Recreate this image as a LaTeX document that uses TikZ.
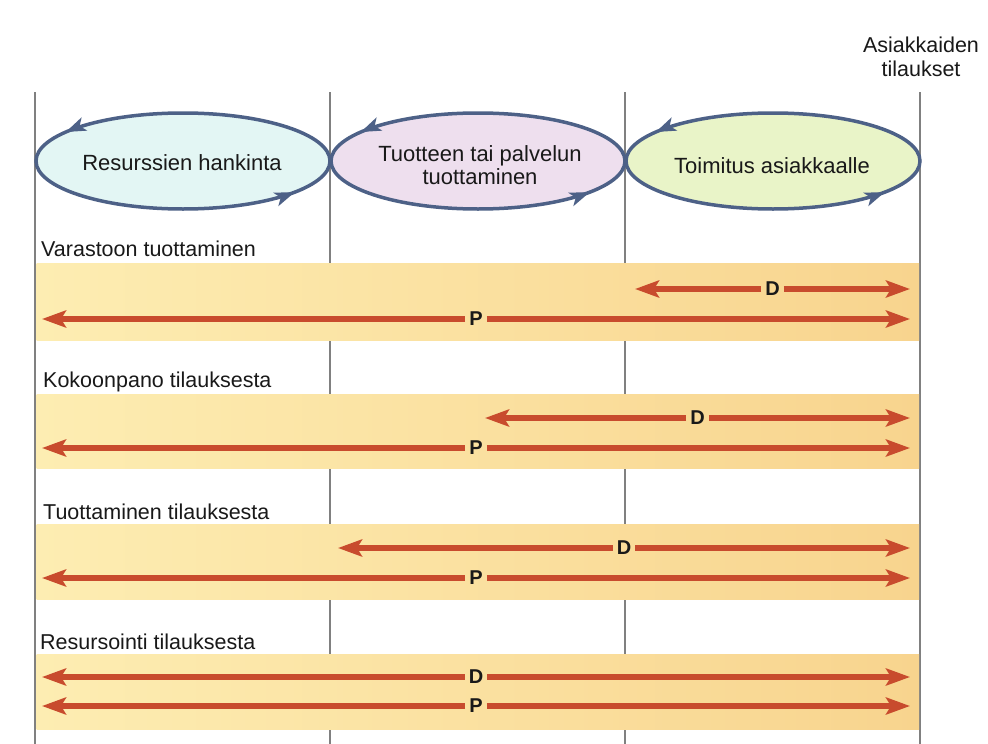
\documentclass[tikz,border=0pt]{standalone}
\usepackage{fontspec}
\setmainfont{Liberation Sans}
\usetikzlibrary{arrows.meta,decorations.markings}
\definecolor{vline}{RGB}{128,128,128}
\definecolor{eline}{RGB}{77,97,135}
\definecolor{efillA}{RGB}{227,246,244}
\definecolor{efillB}{RGB}{238,223,238}
\definecolor{efillC}{RGB}{233,244,200}
\definecolor{bandL}{RGB}{253,237,178}
\definecolor{bandR}{RGB}{248,212,142}
\definecolor{arr}{RGB}{200,75,45}
\definecolor{txt}{RGB}{25,25,25}
\begin{document}
\begin{tikzpicture}[x=1pt,y=-1pt,
  vl/.style={draw=vline, line width=1.8pt},
  cyc/.style={draw=eline, line width=3.5pt, postaction={decorate},
    decoration={markings,
      mark=at position 0.433 with {\arrow{Stealth[length=20pt,width=14pt,inset=5pt]}},
      mark=at position 0.924 with {\arrow{Stealth[length=20pt,width=14pt,inset=5pt]}}}},
  etext/.style={font=\fontsize{22}{23}\selectfont, text=txt, inner sep=0pt, align=center},
  lbl/.style={font=\fontsize{21.5}{24}\selectfont, text=txt, inner sep=0pt},
  band/.style={left color=bandL, right color=bandR},
  letter/.style={font=\fontsize{20}{21}\selectfont\bfseries, text=txt, inner sep=4pt},
  bigarrow/.style={draw=arr, line width=5.5pt, -{Stealth[length=24pt,width=17pt,inset=5pt]}}
]
\useasboundingbox (0,0) rectangle (988,744);
\fill[white] (0,0) rectangle (988,744);

% vertical lines
\foreach \i/\x in {1/35,2/330,3/625,4/920}{
  \coordinate (t\i) at (\x,92);
  \coordinate (b\i) at (\x,744);
  \draw[vl] (t\i) -- (b\i);
}

% top label
\node[lbl, align=center] (cust) at (921,57) {Asiakkaiden\\tilaukset};

% ellipses
\path[cyc, fill=efillA] (183,161) ellipse [x radius=147pt, y radius=48pt];
\path[cyc, fill=efillB] (478,161) ellipse [x radius=147pt, y radius=48pt];
\path[cyc, fill=efillC] (773,161) ellipse [x radius=147pt, y radius=48pt];
\node[etext, anchor=base] (e1) at (182,170) {Resurssien hankinta};
\node[etext] (e2) at (480,165.5) {Tuotteen tai palvelun\\tuottaminen};
\node[etext, anchor=base] (e3) at (772,173) {Toimitus asiakkaalle};

% bands
\shade[band] (36.5,263) rectangle (919,340);
\shade[band] (36.5,394) rectangle (919,468);
\shade[band] (36.5,524) rectangle (919,599);
\shade[band] (36.5,654) rectangle (919,729);

% band labels
\node[lbl, anchor=base west] (l1) at (41,256) {Varastoon tuottaminen};
\node[lbl, anchor=base west] (l2) at (43,387) {Kokoonpano tilauksesta};
\node[lbl, anchor=base west] (l3) at (43,519) {Tuottaminen tilauksesta};
\node[lbl, anchor=base west] (l4) at (40,649) {Resursointi tilauksesta};

% D arrows
\foreach \i/\y/\xl in {1/289/635,2/418/485,3/548/338,4/677/42}{
  \node[letter] (d\i) at ({(\xl+910)/2},\y) {D};
  \coordinate (dl\i) at (\xl,\y);
  \coordinate (dr\i) at (910,\y);
  \draw[bigarrow] (d\i) -- (dl\i);
  \draw[bigarrow] (d\i) -- (dr\i);
}
% P arrows
\foreach \i/\y in {1/319,2/448,3/578,4/706}{
  \node[letter] (p\i) at (476,\y) {P};
  \coordinate (pl\i) at (42,\y);
  \coordinate (pr\i) at (910,\y);
  \draw[bigarrow] (p\i) -- (pl\i);
  \draw[bigarrow] (p\i) -- (pr\i);
}
\end{tikzpicture}
\end{document}
